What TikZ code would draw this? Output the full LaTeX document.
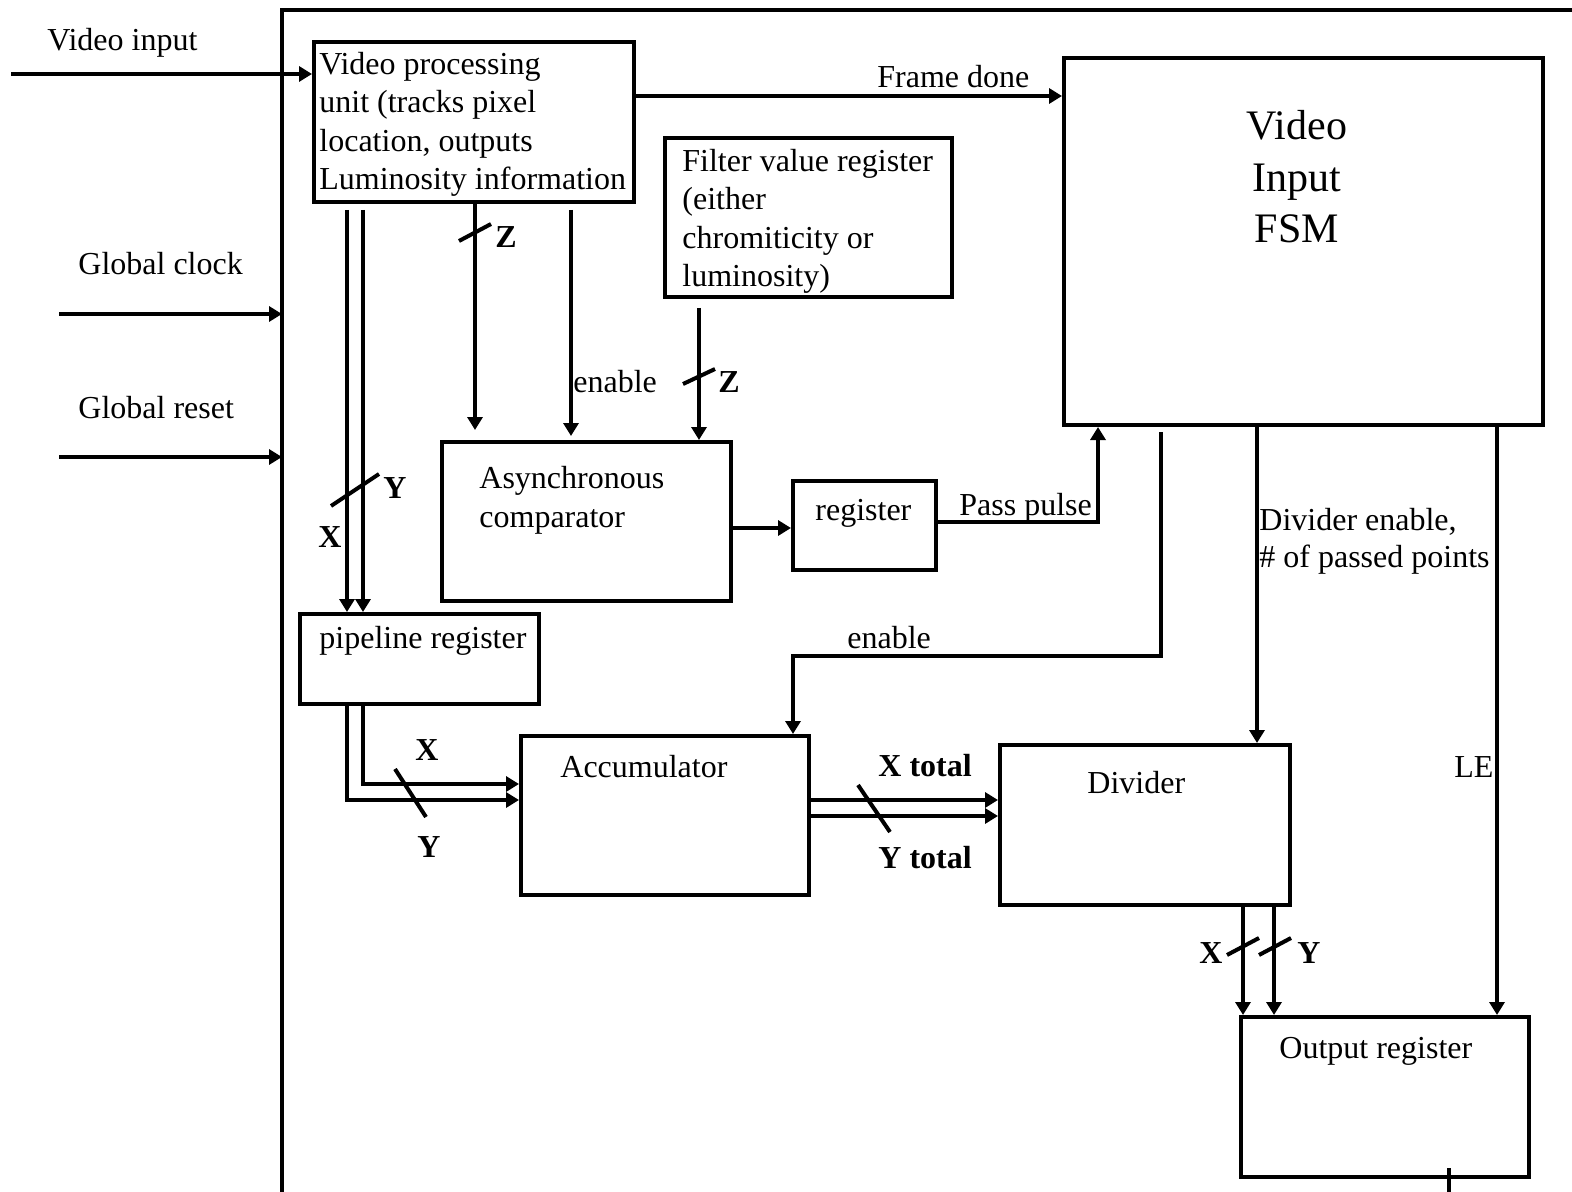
\documentclass[tikz,border=0pt]{standalone}
\usepackage{fontspec}
\setmainfont{Liberation Serif}
\usetikzlibrary{arrows.meta}
\begin{document}
\begin{tikzpicture}[x=0.5pt,y=-0.5pt,
  box/.style={draw, line width=2pt, inner sep=0pt},
  wire/.style={line width=2pt},
  arr/.style={wire, -{Triangle[length=6.5pt,width=7.5pt]}},
  txt/.style={inner sep=0pt, anchor=base west, font=\fontsize{16}{19}\selectfont},
  btxt/.style={txt, font=\fontsize{16}{19}\selectfont\bfseries},
  ftxt/.style={inner sep=0pt, anchor=base, font=\fontsize{21}{25}\selectfont}]
\useasboundingbox[fill=white] (0,0) rectangle (1572,1192);

% outer frame
\draw[wire] (282,1200) -- (282,10) -- (1580,10);

% boxes
\node[box, minimum width=160pt, minimum height=80pt] (vpu) at (474,122) {};
\node[box, minimum width=239.5pt, minimum height=183.5pt] (fsm) at (1303.5,241.5) {};
\node[box, minimum width=143.5pt, minimum height=79.5pt] (filt) at (808.5,217.5) {};
\node[box, minimum width=144.5pt, minimum height=79.5pt] (comp) at (586.5,521.5) {};
\node[box, minimum width=71.5pt, minimum height=44.5pt] (reg) at (864.5,525.5) {};
\node[box, minimum width=119.5pt, minimum height=45pt] (pipe) at (419.5,659) {};
\node[box, minimum width=144pt, minimum height=79.5pt] (acc) at (665,815.5) {};
\node[box, minimum width=145pt, minimum height=80pt] (div) at (1145,825) {};
\node[box, minimum width=144pt, minimum height=80pt] (out) at (1385,1097) {};

% box texts
\node[txt] (vpu1) at (319,75) {Video processing};
\node[txt] (vpu2) at (319,113) {unit (tracks pixel};
\node[txt] (vpu3) at (319,152) {location, outputs};
\node[txt] (vpu4) at (319,190) {Luminosity information};
\node[ftxt] (fsm1) at (1297,140) {Video};
\node[ftxt] (fsm2) at (1297,192) {Input};
\node[ftxt] (fsm3) at (1297,243) {FSM};
\node[txt] (filt1) at (682,172) {Filter value register};
\node[txt] (filt2) at (682,210) {(either};
\node[txt] (filt3) at (682,249) {chromiticity or};
\node[txt] (filt4) at (682,287) {luminosity)};
\node[txt] (comp1) at (479,488) {Asynchronous};
\node[txt] (comp2) at (479,527) {comparator};
\node[txt] (regt) at (815,520) {register};
\node[txt] (pipet) at (319,648) {pipeline register};
\node[txt] (acct) at (560,777) {Accumulator};
\node[txt] (divt) at (1087,793) {Divider};
\node[txt] (outt) at (1279,1058) {Output register};

% external inputs
\coordinate (vinS) at (11,74);
\draw[arr] (vinS) -- (vinS -| vpu.west);
\node[txt] (lvin) at (47,51) {Video input};
\coordinate (clkS) at (59,314);
\coordinate (clkE) at (282,314);
\draw[arr] (clkS) -- (clkE);
\node[txt] (lclk) at (78,275) {Global clock};
\coordinate (rstS) at (59,457);
\coordinate (rstE) at (282,457);
\draw[arr] (rstS) -- (rstE);
\node[txt] (lrst) at (78,418) {Global reset};

% frame done
\coordinate (fdy) at (0,96);
\draw[arr] (vpu.east |- fdy) -- (fsm.west |- fdy);
\node[txt] (lfd) at (877,88) {Frame done};

% VPU -> pipeline (X, Y)
\coordinate (vx) at (347,210);
\coordinate (vy) at (363,210);
\draw[arr] (vx) -- (vx |- pipe.north);
\draw[arr] (vy) -- (vy |- pipe.north);
\draw[wire] (331,506) -- (379,474);
\node[btxt] (lY1) at (383,498) {Y};
\node[btxt] (lX1) at (318,547) {X};

% VPU -> comparator (Z)
\coordinate (zx) at (475,0);
\draw[arr, shorten >=5pt] (vpu.south -| zx) -- (comp.north -| zx);
\draw[wire] (459,241) -- (491,224);
\node[btxt] (lZ1) at (495,248) {Z};

% enable
\coordinate (ex) at (571,210);
\draw[arr, shorten >=2pt] (ex) -- (ex |- comp.north);
\node[txt] (len1) at (573,392) {enable};

% filter -> comparator (Z)
\coordinate (fzx) at (699,0);
\draw[arr, shorten <=4.5pt] (filt.south -| fzx) -- (comp.north -| fzx);
\draw[wire] (683,384) -- (715,369);
\node[btxt] (lZ2) at (718,393) {Z};

% comparator -> register
\coordinate (cry) at (0,528);
\draw[arr] (comp.east |- cry) -- (reg.west |- cry);

% pass pulse
\coordinate (ppy) at (0,522);
\coordinate (ppx) at (1098,0);
\draw[arr] (reg.east |- ppy) -- (ppx |- ppy) -- (ppx |- fsm.south);
\node[txt] (lpp) at (959,515) {Pass pulse};

% enable to accumulator
\coordinate (en1) at (1161,432);
\coordinate (en2) at (793,656);
\draw[arr] (en1) -- (en1 |- en2) -- (en2) -- (en2 |- acc.north);
\node[txt] (len2) at (847,648) {enable};

% divider enable
\coordinate (dex) at (1257,0);
\draw[arr] (fsm.south -| dex) -- (div.north -| dex);
\node[txt] (lde1) at (1259,530) {Divider enable,};
\node[txt] (lde2) at (1259,567) {\# of passed points};

% LE
\coordinate (lex) at (1497,0);
\draw[arr] (fsm.south -| lex) -- (out.north -| lex);
\node[txt] (lle) at (1454,777) {LE};

% pipeline -> accumulator
\coordinate (py1) at (363,784);
\coordinate (py2) at (347,800);
\draw[arr] (pipe.south -| py1) -- (py1) -- (acc.west |- py1);
\draw[arr] (pipe.south -| py2) -- (py2) -- (acc.west |- py2);
\draw[wire] (395,769) -- (426,817);
\node[btxt] (lX2) at (415,760) {X};
\node[btxt] (lY2) at (417,857) {Y};

% accumulator -> divider
\coordinate (ty1) at (0,800);
\coordinate (ty2) at (0,816);
\draw[arr] (acc.east |- ty1) -- (div.west |- ty1);
\draw[arr] (acc.east |- ty2) -- (div.west |- ty2);
\draw[wire] (858,785) -- (890,832);
\node[btxt] (lXt) at (878,776) {X total};
\node[btxt] (lYt) at (878,868) {Y total};

% divider -> output register
\coordinate (ox1) at (1243,0);
\coordinate (ox2) at (1274,0);
\draw[arr] (div.south -| ox1) -- (out.north -| ox1);
\draw[arr] (div.south -| ox2) -- (out.north -| ox2);
\draw[wire] (1227,955) -- (1259,938);
\draw[wire] (1259,955) -- (1291,938);
\node[btxt] (lX3) at (1199,963) {X};
\node[btxt] (lY3) at (1297,963) {Y};

% output tick
\coordinate (tk) at (1449,1168);
\draw[wire] (tk) -- (1449,1196);
\end{tikzpicture}
\end{document}
